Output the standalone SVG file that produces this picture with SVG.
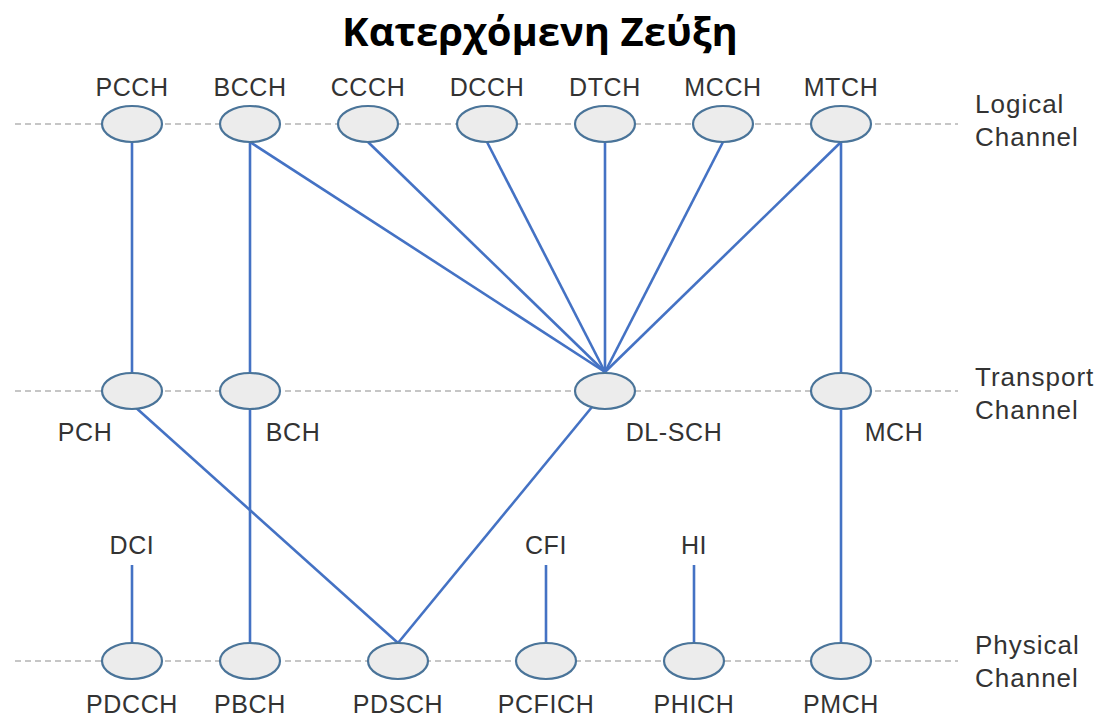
<svg xmlns="http://www.w3.org/2000/svg" width="1104" height="718" viewBox="0 0 1104 718">
  <style>
    .lane { stroke: #b4b4b4; stroke-width: 1.5; stroke-dasharray: 6 4; fill: none; }
    .link { stroke: #4472c4; stroke-width: 2.6; fill: none; }
    .node ellipse { fill: #ececec; stroke: #4a7499; stroke-width: 2.2; }
    .lbl { font-family: "Liberation Sans", Arial, sans-serif; font-size: 25px; letter-spacing: 0.6px; fill: #333; text-anchor: middle; }
    .side { font-family: "Liberation Sans", Arial, sans-serif; font-size: 26px; letter-spacing: 1px; fill: #333; }
    .title { font-family: "Open Sans", "Liberation Sans", sans-serif; font-size: 40px; font-weight: bold; fill: #000; text-anchor: middle; }
  </style>
  <rect width="1104" height="718" fill="#fff"/>

  <text class="title" x="540" y="46">Κατερχόμενη Ζεύξη</text>

  <!-- layer guide lines -->
  <g id="lanes">
    <line class="lane" x1="15" y1="124" x2="958" y2="124"/>
    <line class="lane" x1="15" y1="391" x2="958" y2="391"/>
    <line class="lane" x1="15" y1="661" x2="958" y2="661"/>
  </g>
  <g id="lane-labels">
    <text class="side" x="975" y="113">Logical</text>
    <text class="side" x="975" y="146">Channel</text>
    <text class="side" x="975" y="386">Transport</text>
    <text class="side" x="975" y="419">Channel</text>
    <text class="side" x="975" y="654">Physical</text>
    <text class="side" x="975" y="687">Channel</text>
  </g>

  <!-- mappings between channels -->
  <g id="connectors">
    <line class="link" x1="132" y1="142" x2="132" y2="373"/>
    <line class="link" x1="250" y1="142" x2="250" y2="373"/>
    <line class="link" x1="250" y1="142" x2="605" y2="372"/>
    <line class="link" x1="368" y1="142" x2="605" y2="372"/>
    <line class="link" x1="487" y1="142" x2="605" y2="372"/>
    <line class="link" x1="605" y1="142" x2="605" y2="372"/>
    <line class="link" x1="723" y1="142" x2="605" y2="372"/>
    <line class="link" x1="841" y1="142" x2="605" y2="372"/>
    <line class="link" x1="841" y1="142" x2="841" y2="373"/>
    <line class="link" x1="134" y1="406" x2="398" y2="643"/>
    <line class="link" x1="250" y1="409" x2="250" y2="643"/>
    <line class="link" x1="592" y1="407" x2="398" y2="643"/>
    <line class="link" x1="841" y1="409" x2="841" y2="643"/>
    <line class="link" x1="132" y1="565" x2="132" y2="643"/>
    <line class="link" x1="546" y1="565" x2="546" y2="643"/>
    <line class="link" x1="694" y1="565" x2="694" y2="643"/>
  </g>

  <!-- logical channels -->
  <g id="PCCH" class="node"><ellipse cx="132" cy="124" rx="30" ry="18"/><text class="lbl" x="132" y="96">PCCH</text></g>
  <g id="BCCH" class="node"><ellipse cx="250" cy="124" rx="30" ry="18"/><text class="lbl" x="250" y="96">BCCH</text></g>
  <g id="CCCH" class="node"><ellipse cx="368" cy="124" rx="30" ry="18"/><text class="lbl" x="368" y="96">CCCH</text></g>
  <g id="DCCH" class="node"><ellipse cx="487" cy="124" rx="30" ry="18"/><text class="lbl" x="487" y="96">DCCH</text></g>
  <g id="DTCH" class="node"><ellipse cx="605" cy="124" rx="30" ry="18"/><text class="lbl" x="605" y="96">DTCH</text></g>
  <g id="MCCH" class="node"><ellipse cx="723" cy="124" rx="30" ry="18"/><text class="lbl" x="723" y="96">MCCH</text></g>
  <g id="MTCH" class="node"><ellipse cx="841" cy="124" rx="30" ry="18"/><text class="lbl" x="841" y="96">MTCH</text></g>

  <!-- transport channels -->
  <g id="PCH" class="node"><ellipse cx="132" cy="391" rx="30" ry="18"/><text class="lbl" x="85" y="441">PCH</text></g>
  <g id="BCH" class="node"><ellipse cx="250" cy="391" rx="30" ry="18"/><text class="lbl" x="293" y="441">BCH</text></g>
  <g id="DL-SCH" class="node"><ellipse cx="605" cy="391" rx="30" ry="18"/><text class="lbl" x="674" y="441">DL-SCH</text></g>
  <g id="MCH" class="node"><ellipse cx="841" cy="391" rx="30" ry="18"/><text class="lbl" x="894" y="441">MCH</text></g>

  <!-- control indicators -->
  <g id="DCI" class="node"><text class="lbl" x="132" y="554">DCI</text></g>
  <g id="CFI" class="node"><text class="lbl" x="546" y="554">CFI</text></g>
  <g id="HI" class="node"><text class="lbl" x="694" y="554">HI</text></g>

  <!-- physical channels -->
  <g id="PDCCH" class="node"><ellipse cx="132" cy="661" rx="30" ry="18"/><text class="lbl" x="132" y="713">PDCCH</text></g>
  <g id="PBCH" class="node"><ellipse cx="250" cy="661" rx="30" ry="18"/><text class="lbl" x="250" y="713">PBCH</text></g>
  <g id="PDSCH" class="node"><ellipse cx="398" cy="661" rx="30" ry="18"/><text class="lbl" x="398" y="713">PDSCH</text></g>
  <g id="PCFICH" class="node"><ellipse cx="546" cy="661" rx="30" ry="18"/><text class="lbl" x="546" y="713">PCFICH</text></g>
  <g id="PHICH" class="node"><ellipse cx="694" cy="661" rx="30" ry="18"/><text class="lbl" x="694" y="713">PHICH</text></g>
  <g id="PMCH" class="node"><ellipse cx="841" cy="661" rx="30" ry="18"/><text class="lbl" x="841" y="713">PMCH</text></g>
</svg>
